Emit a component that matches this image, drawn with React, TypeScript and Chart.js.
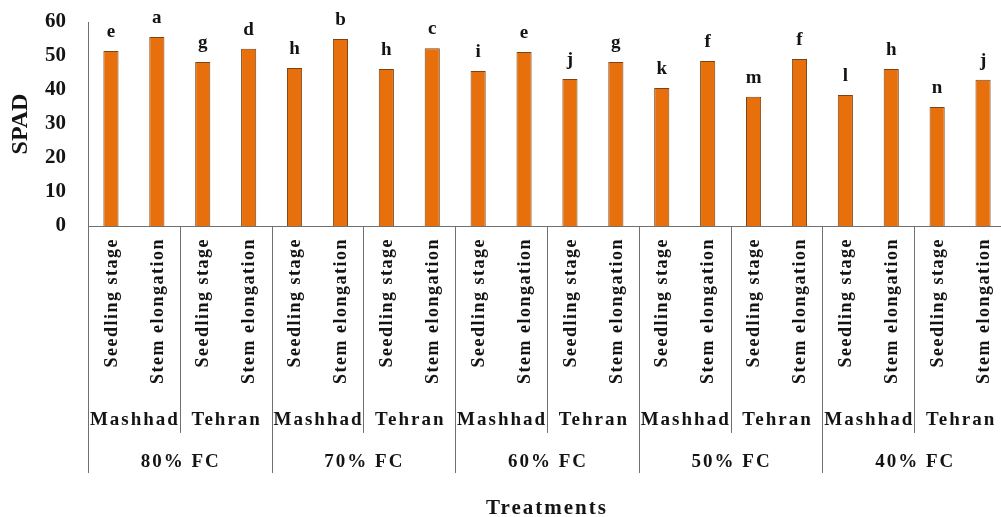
import React, { useEffect, useRef } from "react";
import { Chart, registerables } from "chart.js";

Chart.register(...registerables);

const levels = ["80% FC", "70% FC", "60% FC", "50% FC", "40% FC"];
const locations = ["Mashhad", "Tehran"];
const stages = ["Seedling stage", "Stem elongation"];
const spad = [
  51.5, 55.6, 48.2, 52.1,
  46.5, 55.0, 46.2, 52.3,
  45.6, 51.2, 43.2, 48.2,
  40.6, 48.5, 38.0, 49.1,
  38.5, 46.2, 35.0, 43.0,
];
const letters = [
  "e", "a", "g", "d",
  "h", "b", "h", "c",
  "i", "e", "j", "g",
  "k", "f", "m", "f",
  "l", "h", "n", "j",
];
const yMin = 0;
const yMax = 60;
const yStep = 10;
const xTitle = "Treatments";
const yTitle = "SPAD";

const categories: string[] = [];
levels.forEach((lv) =>
  locations.forEach((loc) =>
    stages.forEach((st) => categories.push(`${lv}|${loc}|${st}`))
  )
);

const FONT = "'Liberation Serif', 'Times New Roman', serif";
const TEXT = "#141414";
const LINE = "#707070";

const labelsPlugin = {
  id: "multiLevelLabels",
  afterDraw(chart: any) {
    const ctx: CanvasRenderingContext2D = chart.ctx;
    const xs = chart.scales.x;
    const ys = chart.scales.y;
    const area = chart.chartArea;
    const n = categories.length;
    const w = xs.getPixelForValue(1) - xs.getPixelForValue(0);
    const boundary = (i: number) => xs.getPixelForValue(0) - w / 2 + i * w;
    const bottom = area.bottom;
    ctx.save();

    // x axis line
    ctx.strokeStyle = LINE;
    ctx.lineWidth = 1;
    ctx.beginPath();
    ctx.moveTo(area.left, Math.round(bottom) + 0.5);
    ctx.lineTo(boundary(n), Math.round(bottom) + 0.5);
    ctx.stroke();

    // dividers
    const perLevel = locations.length * stages.length;
    for (let i = 0; i <= n; i += stages.length) {
      const x = Math.round(boundary(i)) + 0.5;
      const long = i % perLevel === 0;
      ctx.beginPath();
      ctx.moveTo(x, bottom);
      ctx.lineTo(x, long ? bottom + 247 : bottom + 207);
      ctx.stroke();
    }

    // letters above bars
    (ctx as any).letterSpacing = "0px";
    ctx.fillStyle = TEXT;
    ctx.font = `bold 19px ${FONT}`;
    ctx.textAlign = "center";
    ctx.textBaseline = "alphabetic";
    spad.forEach((v, i) => {
      ctx.fillText(letters[i], xs.getPixelForValue(i), ys.getPixelForValue(v) - 14);
    });

    // stage labels (rotated)
    (ctx as any).letterSpacing = "1.5px";
    ctx.font = `bold 18px ${FONT}`;
    categories.forEach((c, i) => {
      const st = c.split("|")[2];
      ctx.save();
      ctx.translate(xs.getPixelForValue(i) + 1, bottom + 12);
      ctx.rotate(-Math.PI / 2);
      ctx.textAlign = "right";
      ctx.textBaseline = "middle";
      ctx.fillText(st, 0, 0);
      ctx.restore();
    });

    // location labels
    (ctx as any).letterSpacing = "2px";
    ctx.font = `bold 19px ${FONT}`;
    ctx.textAlign = "center";
    ctx.textBaseline = "middle";
    for (let g = 0; g < levels.length * locations.length; g++) {
      const loc = locations[g % locations.length];
      const cx = (boundary(g * 2) + boundary(g * 2 + 2)) / 2;
      ctx.fillText(loc, cx + 1, bottom + 194);
    }

    // level labels
    levels.forEach((lv, k) => {
      const cx = (boundary(k * perLevel) + boundary((k + 1) * perLevel)) / 2;
      ctx.fillText(lv, cx + 1, bottom + 236);
    });

    // x title
    ctx.font = `bold 21px ${FONT}`;
    ctx.fillText(xTitle, (area.left + area.right) / 2, bottom + 283);
    ctx.restore();
  },
};

export default function App() {
  const ref = useRef<HTMLCanvasElement | null>(null);
  useEffect(() => {
    document.body.style.margin = "0";
    document.body.style.overflow = "hidden";
    const canvas = ref.current;
    if (!canvas) return;
    const chart = new Chart(canvas, {
      type: "bar",
      data: {
        labels: categories,
        datasets: [
          {
            data: spad,
            backgroundColor: "#E8700C",
            borderColor: "#7a4416",
            borderWidth: 1,
            barPercentage: 0.33,
            categoryPercentage: 1,
          },
        ],
      },
      options: {
        animation: false,
        responsive: false,
        devicePixelRatio: 1,
        layout: { padding: { left: 0, top: 22, right: 4, bottom: 291 } },
        plugins: { legend: { display: false }, tooltip: { enabled: false } },
        scales: {
          x: { display: false },
          y: {
            min: yMin,
            max: yMax,
            grid: { display: false, drawTicks: false },
            border: { display: true, color: LINE, width: 1 },
            ticks: {
              stepSize: yStep,
              padding: 22,
              color: TEXT,
              font: { family: FONT, size: 21, weight: "bold" },
            },
            title: {
              display: true,
              text: yTitle,
              color: TEXT,
              padding: { top: 6, bottom: 0 },
              font: { family: FONT, size: 24, weight: "bold" },
            },
            afterFit: (scale: any) => {
              scale.width = 88;
              scale.paddingTop = 0;
              scale.paddingBottom = 0;
            },
          },
        },
      },
      plugins: [labelsPlugin],
    });
    return () => chart.destroy();
  }, []);
  return (
    <div style={{ position: "fixed", left: 0, top: 0, width: 1010, height: 517, background: "#fff" }}>
      <canvas ref={ref} width={1010} height={517} style={{ width: 1010, height: 517, display: "block" }} />
    </div>
  );
}
